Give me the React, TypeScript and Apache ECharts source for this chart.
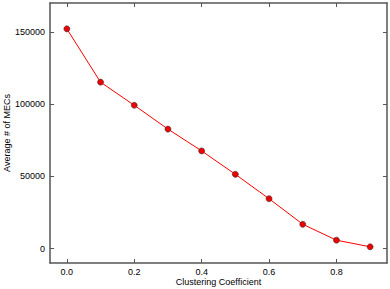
import React, { useEffect, useRef } from "react";
import * as echarts from "echarts";

const xValues = [0.0, 0.1, 0.2, 0.3, 0.4, 0.5, 0.6, 0.7, 0.8, 0.9];
const yValues = [152100, 115200, 99200, 82700, 67600, 51400, 34500, 16800, 5800, 1200];
const xTicks = [0.0, 0.2, 0.4, 0.6, 0.8];
const yTicks = [0, 50000, 100000, 150000];

const FONT = "Liberation Sans";
const FS = 9;
const AX = "#555555";

export default function App() {
  const ref = useRef<HTMLDivElement>(null);
  useEffect(() => {
    if (!ref.current) return;
    const chart = echarts.init(ref.current, null, { renderer: "svg" });
    const tickStyle = { show: true, inside: true, length: 4, lineStyle: { color: AX, width: 1 } };
    const lineStyle = { show: true, onZero: false, lineStyle: { color: AX, width: 1.5 } };
    chart.setOption({
      animation: false,
      grid: { left: 50, right: 3, top: 3, bottom: 26, containLabel: false, outerBoundsMode: "none" },
      xAxis: [
        {
          type: "value",
          min: -0.05,
          max: 0.95,
          name: "Clustering Coefficient",
          nameLocation: "middle",
          nameGap: 14,
          nameMoveOverlap: false,
          nameTextStyle: { fontFamily: FONT, fontSize: FS, color: "#000" },
          axisLine: lineStyle,
          axisTick: { ...tickStyle, customValues: xTicks },
          axisLabel: {
            customValues: xTicks,
            formatter: (v: number) => v.toFixed(1),
            fontFamily: FONT,
            fontSize: FS,
            color: "#000",
            margin: 4,
          },
          splitLine: { show: false },
        },
        {
          type: "value",
          position: "top",
          min: -0.05,
          max: 0.95,
          axisLine: lineStyle,
          axisTick: { ...tickStyle, customValues: xTicks },
          axisLabel: { show: false },
          splitLine: { show: false },
        },
      ],
      yAxis: [
        {
          type: "value",
          min: -10000,
          max: 170000,
          name: "Average # of MECs",
          nameLocation: "middle",
          nameGap: 39,
          nameMoveOverlap: false,
          nameTextStyle: { fontFamily: FONT, fontSize: FS, color: "#000" },
          axisLine: lineStyle,
          axisTick: { ...tickStyle, customValues: yTicks },
          axisLabel: {
            customValues: yTicks,
            formatter: (v: number) => String(v),
            fontFamily: FONT,
            fontSize: FS,
            color: "#000",
            margin: 5,
          },
          splitLine: { show: false },
        },
        {
          type: "value",
          position: "right",
          min: -10000,
          max: 170000,
          axisLine: lineStyle,
          axisTick: { ...tickStyle, customValues: yTicks },
          axisLabel: { show: false },
          splitLine: { show: false },
        },
      ],
      series: [
        {
          type: "line",
          smooth: false,
          data: xValues.map((x, i) => [x, yValues[i]]),
          symbol: "circle",
          symbolSize: 6,
          lineStyle: { color: "#ff0000", width: 1 },
          itemStyle: { color: "#f00000", borderColor: "#333", borderWidth: 0.6 },
        },
      ],
    });
    return () => chart.dispose();
  }, []);
  return <div ref={ref} style={{ width: 390, height: 289, position: "absolute", left: 0, top: 0 }} />;
}
